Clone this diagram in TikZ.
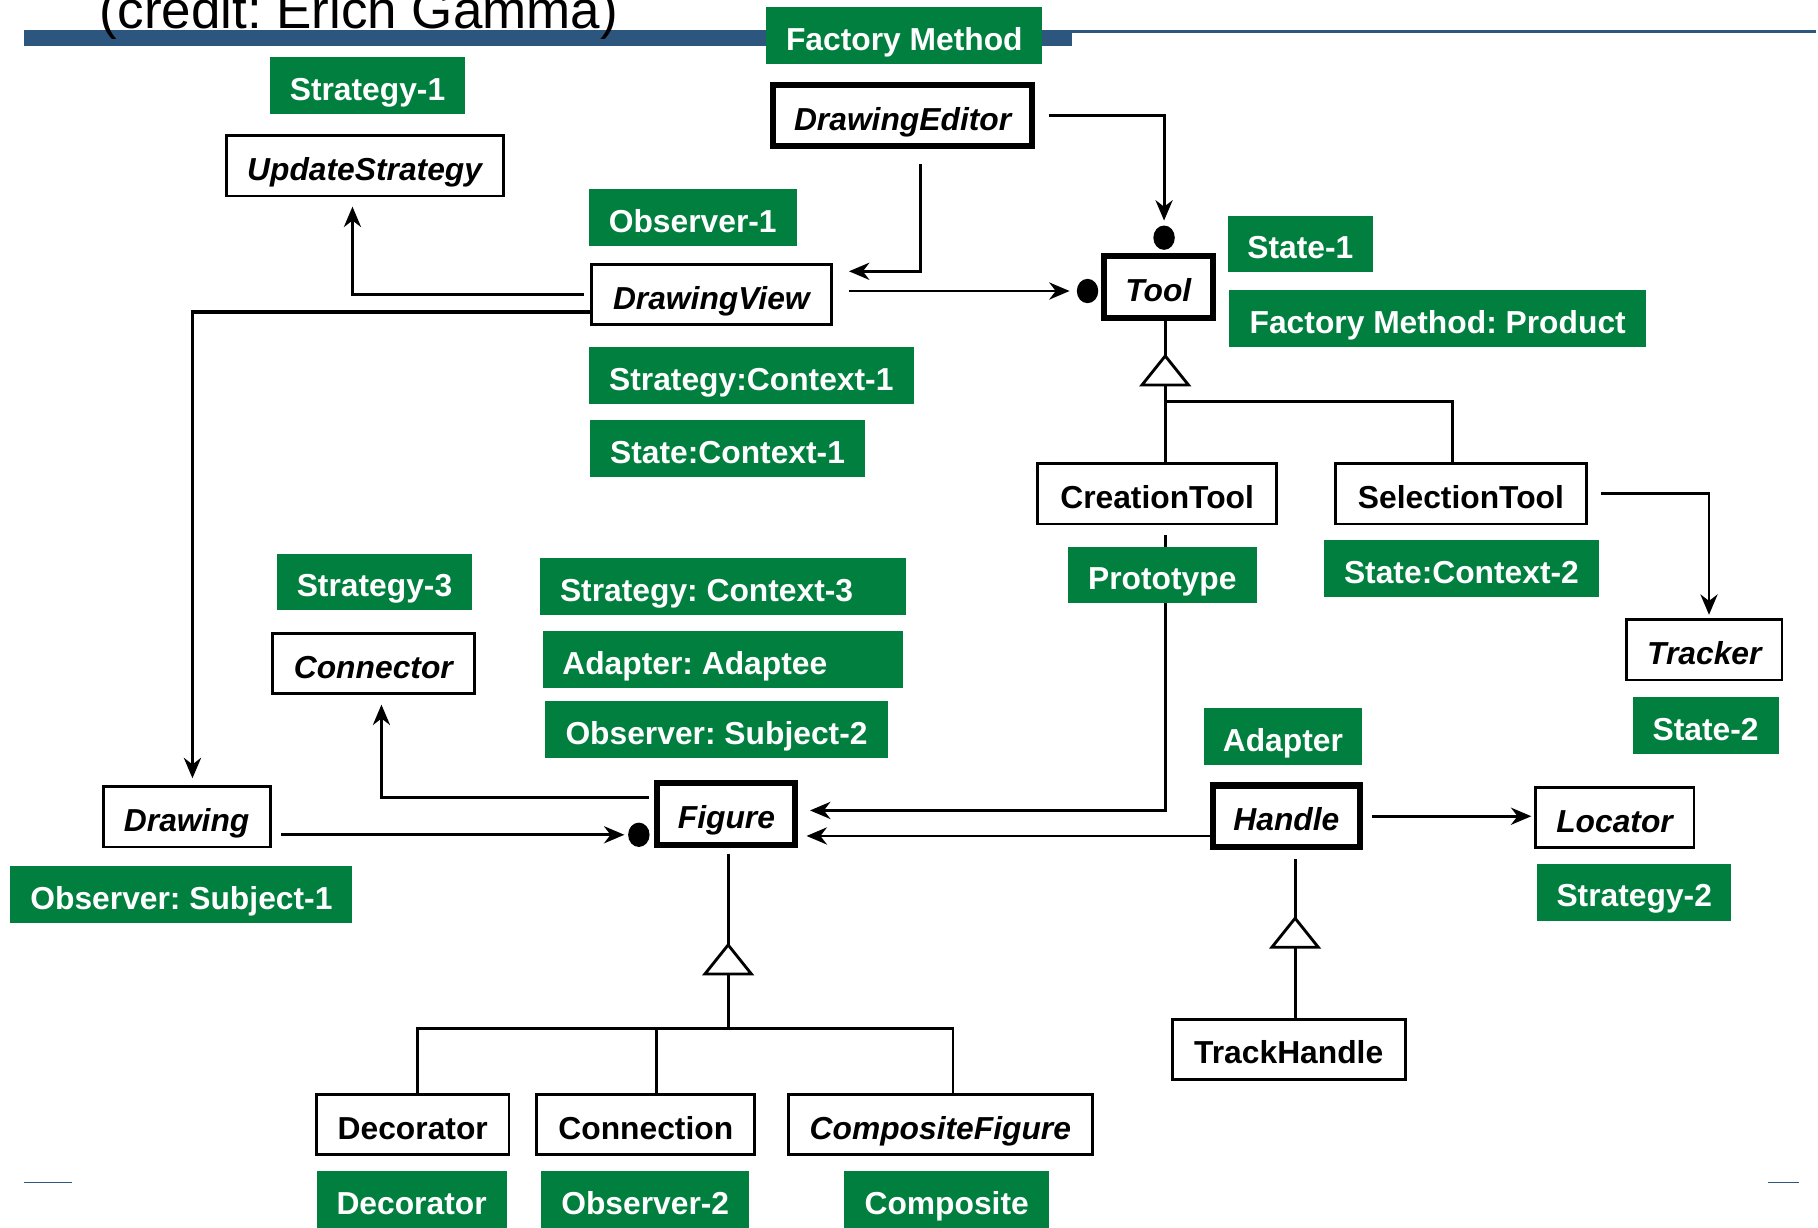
\documentclass[tikz,border=0pt]{standalone}
\usepackage{fontspec}
\setmainfont{Liberation Sans}
\usetikzlibrary{arrows.meta,shapes.geometric}
\definecolor{gammagreen}{RGB}{0,127,63}
\definecolor{gammablue}{RGB}{44,86,126}
\frenchspacing
\newcommand\tagfont{\fontsize{7.8}{9}\selectfont\bfseries}
\tikzset{
	tag/.style={fill=gammagreen, text=white, font=\tagfont, inner sep=0pt, text height=0.72em, text depth=0pt, minimum height=4.9mm},
	cls/.style={draw, line width=0.7pt, fill=white, font=\tagfont, inner sep=0pt, text height=0.72em, text depth=0pt, minimum height=5.2mm},
	abstract/.style={cls, font=\tagfont\itshape},
	core/.style={abstract, line width=1.5pt, minimum height=5.3mm},
	joint/.style={ellipse, fill, inner sep=0pt, minimum width=1.85mm, minimum height=2.1mm},
	assoc/.style={-{Stealth[length=5pt,width=4.2pt,inset=1.6pt]}, line width=0.7pt},
}
\begin{document}
\begin{tikzpicture}[x=0.1mm, y=-0.1mm, line width=0.7pt]
		\useasboundingbox (0,0) rectangle (1568,1059);
		% title bar
		\fill[gammablue] (21,26) rectangle (925,40);
		\draw[gammablue, line width=0.6pt] (925,27) -- (1566,27);
		\draw[gammablue, line width=0.4pt] (21,1020) -- (62,1020);
		\draw[gammablue, line width=0.4pt] (1525,1020) -- (1552,1020);
		\node[anchor=base west, inner sep=0pt, font=\fontsize{13}{15}\selectfont] (credit) at (85,25) {(credit: Erich Gamma)};
		
		% classes
		\node[core, minimum width=22.3mm] (editor) at (778.5,99.5) {DrawingEditor};
		\node[abstract, minimum width=23.9mm] (update) at (314.5,143) {UpdateStrategy};
		\node[abstract, minimum width=20.7mm] (view) at (613.5,254) {DrawingView};
		\node[core, minimum width=9.4mm] (tool) at (999,247.5) {Tool};
		\node[cls, minimum width=20.6mm] (creation) at (998,426) {CreationTool};
		\node[cls, minimum width=21.6mm] (selection) at (1260,426) {SelectionTool};
		\node[abstract, minimum width=13.4mm] (tracker) at (1470,560.5) {Tracker};
		\node[abstract, minimum width=17.4mm] (connector) at (322,572.5) {Connector};
		\node[abstract, minimum width=14.4mm] (drawing) at (161,704.5) {Drawing};
		\node[core, minimum width=11.9mm] (figure) at (626.5,702) {Figure};
		\node[core, minimum width=12.7mm] (handle) at (1109.5,704) {Handle};
		\node[abstract, minimum width=13.7mm] (locator) at (1392.5,705) {Locator};
		\node[cls, minimum width=20.1mm] (trackhandle) at (1111.5,905) {TrackHandle};
		\node[cls, minimum width=16.6mm] (decorator) at (356,970) {Decorator};
		\node[cls, minimum width=18.8mm] (connection) at (557,970) {Connection};
		\node[abstract, minimum width=26.2mm] (composite) at (811,970) {CompositeFigure};
		
		\node[joint] (tdot) at (1004,205) {};
		\node[joint] (vdot) at (938,251) {};
		\node[joint] (fdot) at (551,720) {};
		
		% inheritance triangles
		\foreach \t/\b/\x/\y in {tooltri/toolbase/1005/307, figtri/figbase/628/815, handtri/handbase/1117/792}
		{
			\coordinate (\t) at (\x,\y);
			\coordinate (\b) at (\x,\y+25);
			\draw[fill=white] (\t) -- ++(20,25) -- ++(-40,0) -- cycle;
		}
		\coordinate (toolbus) at (1005,346);
		\coordinate (figbus) at (628,887);
		
		% associations
		\draw[assoc, shorten <=1.2mm, shorten >=0.3mm] (editor.east) -| (tdot.north);
		\draw[assoc, shorten >=1.4mm] ([xshift=1.55mm, yshift=-1.3mm]editor.south) |- ([yshift=2mm]view.east);
		\draw[assoc, shorten <=1.4mm, shorten >=0.5mm] (view.east |- vdot) -- (vdot.west);
		\draw[assoc, shorten <=0.5mm, shorten >=0.8mm] (view.west) -| ([xshift=-1.05mm]update.south);
		\draw[assoc, line width=0.9pt, shorten >=0.6mm] ([yshift=-1.5mm]view.west) -| ([xshift=0.5mm]drawing.north);
		\draw[assoc, shorten <=0.8mm, shorten >=1mm] (creation.south -| toolbase) |- ([yshift=0.3mm]figure.east);
		\draw[assoc, shorten <=1.2mm, shorten >=0.3mm] (selection.east) -| ([xshift=0.4mm]tracker.north);
		\draw[assoc, shorten >=0.7mm] ([yshift=-1.7mm]handle.west) -- ([yshift=-1.9mm]figure.east);
		\draw[assoc, shorten <=0.5mm, shorten >=0.8mm] ([yshift=1.4mm]figure.west) -| ([xshift=0.7mm]connector.south);
		\draw[assoc, shorten <=0.8mm, shorten >=0.2mm] (drawing.east |- fdot) -- (fdot.west);
		\draw[assoc, shorten <=0.8mm, shorten >=0.2mm] (handle.east) -- (handle.east -| locator.west);
		
		% generalisations
		\draw (tool.south -| tooltri) -- (tooltri);
		\draw (toolbase) -- (creation.north -| toolbase);
		\draw (toolbus) -| ([xshift=-0.7mm]selection.north);
		\draw[shorten <=0.5mm] (figure.south -| figtri) -- (figtri);
		\draw (figbase) -- (figbus);
		\draw ([xshift=0.4mm]decorator.north) |- (figbus) -| ([xshift=1.1mm]composite.north);
		\draw (figbus -| 566,0) -- (connection.north -| 566,0);
		\draw[shorten <=0.8mm] (handle.south -| handtri) -- (handtri);
		\draw (handbase) -- (trackhandle.north -| handbase);
		
		% pattern roles
		\node[tag, minimum width=23.8mm] (fmtag) at (780,30.5) {Factory Method};
		\node[tag, minimum width=16.8mm] (strat1) at (317,74) {Strategy-1};
		\node[tag, minimum width=17.9mm] (obs1) at (597.5,187.5) {Observer-1};
		\node[tag, minimum width=12.5mm] (state1) at (1121.5,210.5) {State-1};
		\node[tag, minimum width=36mm] (product) at (1240,275) {Factory Method: Product};
		\node[tag, minimum width=28mm] (context1) at (648,324) {Strategy:Context-1};
		\node[tag, minimum width=23.7mm] (scontext1) at (627.5,387) {State:Context-1};
		\node[tag, minimum width=16.3mm] (proto) at (1002.5,496) {Prototype};
		\node[tag, minimum width=23.7mm] (scontext2) at (1260.5,490.5) {State:Context-2};
		\node[tag, minimum width=16.8mm] (strat3) at (323,502) {Strategy-3};
		\node[tag, inner xsep=1.7mm] (context3) at (623.5,506) {\makebox[28.1mm][l]{Strategy: Context-3}};
		\node[tag, inner xsep=1.7mm] (adaptee) at (623.5,569) {\makebox[27.7mm][l]{Adapter: Adaptee}};
		\node[tag, minimum width=29.6mm] (subject2) at (618,629.5) {Observer: Subject-2};
		\node[tag, minimum width=13.7mm] (adapter) at (1106.5,635.5) {Adapter};
		\node[tag, minimum width=12.6mm] (state2) at (1471,626) {State-2};
		\node[tag, minimum width=29.5mm] (subject1) at (156.5,771.5) {Observer: Subject-1};
		\node[tag, minimum width=16.7mm] (strat2) at (1409.5,769.5) {Strategy-2};
		\node[tag, minimum width=16.4mm] (dectag) at (355,1034.5) {Decorator};
		\node[tag, minimum width=17.9mm] (obs2) at (556.5,1034.5) {Observer-2};
		\node[tag, minimum width=17.7mm] (comptag) at (816.5,1034.5) {Composite};
\end{tikzpicture}
\end{document}
